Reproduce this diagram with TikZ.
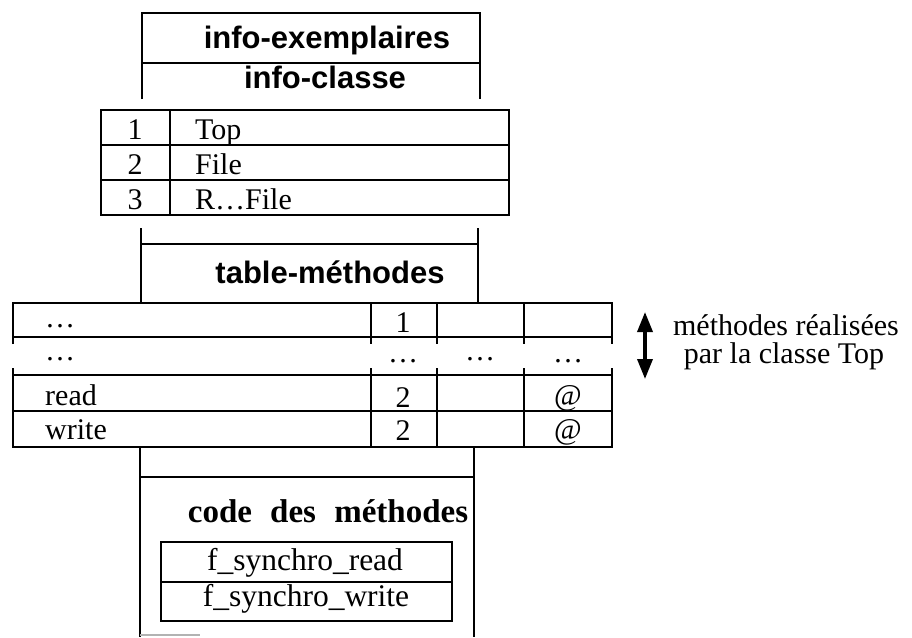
\documentclass[tikz,border=0pt]{standalone}
\usepackage{fontspec}
\setmainfont{Liberation Serif}
\newfontfamily\headsans{Liberation Sans}
\usetikzlibrary{arrows.meta}
\begin{document}
\begin{tikzpicture}[x=1pt,y=-1pt,
  frame/.style={line width=2.8pt,black},
  head/.style={font=\headsans\bfseries\fontsize{31}{36}\selectfont,inner sep=0pt,anchor=base},
  cell/.style={font=\fontsize{30}{36}\selectfont,inner sep=0pt,anchor=base},
  cellw/.style={cell,anchor=base west},
  codecell/.style={font=\fontsize{31.5}{36}\selectfont,inner sep=0pt,anchor=base},
  codehead/.style={font=\bfseries\fontsize{33}{38}\selectfont,inner sep=0pt,anchor=base},
  note/.style={font=\fontsize{30}{34}\selectfont,inner sep=0pt,align=center},
  dblarrow/.style={line width=3.5pt,{Triangle[length=20pt,width=15pt]}-{Triangle[length=20pt,width=15pt]}},
]
\useasboundingbox (0,0) rectangle (912,637);

% ---- top block
\draw[frame] (142,99) -- (142,13) -- (480,13) -- (480,99);
\draw[frame] (142,63) -- (480,63);
\node[head] (iex) at (327,48) {info-exemplaires};
\node[head] (icl) at (325,88) {info-classe};

% ---- small table
\draw[frame] (101,110) rectangle (509,215);
\draw[frame] (101,145) -- (509,145);
\draw[frame] (101,180) -- (509,180);
\draw[frame] (170,110) -- (170,215);
\node[cell] (n1) at (135,139) {1};
\node[cellw] (c1) at (195,139) {Top};
\node[cell] (n2) at (135,174) {2};
\node[cellw] (c2) at (195,174) {File};
\node[cell] (n3) at (135,209) {3};
\node[cellw] (c3) at (195,209) {R\ldots File};

% ---- middle block
\draw[frame] (141,228) -- (141,303);
\draw[frame] (478,228) -- (478,303);
\draw[frame] (141,244) -- (478,244);
\node[head] (tm) at (330,283) {table-méthodes};

% ---- big table
\draw[frame] (13,344) -- (13,303) -- (612,303) -- (612,344);
\draw[frame] (13,337) -- (612,337);
\foreach \x in {371,437,524} \draw[frame] (\x,303) -- (\x,344);
\draw[frame] (13,368) -- (13,447) -- (612,447) -- (612,368);
\draw[frame] (13,375) -- (612,375);
\draw[frame] (13,411) -- (612,411);
\foreach \x in {371,437,524} \draw[frame] (\x,368) -- (\x,447);

\node[cellw] (d1) at (45,327) {\ldots};
\node[cell] (k1) at (403,332) {1};
\node[cellw] (d2) at (45,360) {\ldots};
\node[cell] (d3) at (403,362) {\ldots};
\node[cell] (d4) at (480,360) {\ldots};
\node[cell] (d5) at (568,362) {\ldots};
\node[cellw] (rd) at (45,405) {read};
\node[cell] (r2) at (403,407) {2};
\node[cell] (r4) at (568,405) {@};
\node[cellw] (wr) at (45,439) {write};
\node[cell] (w2) at (403,440) {2};
\node[cell] (w4) at (568,439) {@};

% ---- right note with arrow
\coordinate (atop) at (645,312);
\coordinate (abot) at (645,379);
\draw[dblarrow] (atop) -- (abot);
\node[note,anchor=base] (nt1) at (786,335) {méthodes réalisées};
\node[note,anchor=base] (nt2) at (784,363) {par la classe Top};

% ---- bottom block
\draw[frame] (140,447) -- (140,637);
\draw[frame] (474,447) -- (474,637);
\draw[frame] (140,477) -- (474,477);
\draw[line width=1.2pt,black!30] (140,635) -- (200,635);
\node[codehead] (cd) at (328,522) {code\hspace{10pt} des\hspace{10pt} méthodes};
\draw[frame] (161,542) rectangle (452,621);
\draw[frame] (161,582) -- (452,582);
\node[codecell] (fr) at (305,570) {f\_synchro\_read};
\node[codecell] (fw) at (306,606) {f\_synchro\_write};
\end{tikzpicture}
\end{document}
